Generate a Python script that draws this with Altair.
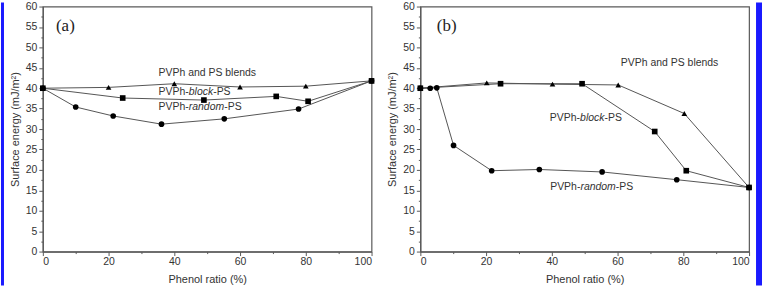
import altair as alt
import pandas as pd

# ---- data: surface energy (mJ/m^2) vs phenol ratio (%) ----
# panel (a)
a_blend_x = [0, 20, 40, 60, 80, 100]
a_blend_y = [40.0, 40.2, 41.1, 40.3, 40.5, 41.8]
a_block_x = [0, 24.3, 49, 71, 80.7, 100]
a_block_y = [40.0, 37.6, 37.1, 38.0, 36.8, 41.8]
a_random_x = [0, 10, 21.4, 36.1, 55.2, 77.8, 100]
a_random_y = [40.0, 35.4, 33.2, 31.2, 32.5, 34.9, 41.8]

# panel (b)
b_blend_x = [0, 20.2, 40.2, 60.2, 80.3, 100]
b_blend_y = [40.0, 41.3, 41.0, 40.8, 33.8, 15.7]
b_block_x = [0, 24.4, 49.2, 71.3, 80.9, 100]
b_block_y = [40.0, 41.1, 41.1, 29.4, 19.8, 15.7]
b_random_x = [0, 3, 5, 10.1, 21.7, 36.2, 55.3, 78, 100]
b_random_y = [40.0, 40.0, 40.1, 26.0, 19.8, 20.1, 19.5, 17.6, 15.7]

series_names = ["blend", "random", "block"]
series_shapes = ["triangle-up", "circle", "square"]

FONT = "Liberation Sans"
LINE_COLOR = "#555555"
AXIS_COLOR = "#5a5a5a"
TEXT_COLOR = "#333333"
EDGE_BLUE = "#1a1aff"
LABEL_SIZE = 10.5

# Arial / Liberation Sans advance widths (per 1000 em) for label layout
GLYPH_W = {"P": 667, "V": 667, "S": 667, "h": 556, "-": 333, "b": 556,
           "l": 222, "o": 556, "c": 500, "k": 500, "r": 333, "a": 556,
           "n": 556, "d": 556, "m": 833, " ": 278, "s": 500, "e": 556}


def text_width(s, size):
    return sum(GLYPH_W.get(ch, 556) for ch in s) * size / 1000.0


def frame(series):
    rows = []
    for name, xs, ys in series:
        for x, y in zip(xs, ys):
            rows.append({"series": name, "x": x, "y": y})
    return pd.DataFrame(rows)


x_enc = alt.X(
    "x:Q",
    scale=alt.Scale(domain=[0, 100], nice=False),
    axis=alt.Axis(
        values=list(range(0, 101, 10)),
        labelExpr="datum.value % 20 === 0 ? datum.label : ''",
        labelOverlap=False,
        tickSize={"condition": {"test": "datum.value % 20 === 0", "value": 4}, "value": 2},
        title="Phenol ratio (%)",
        titlePadding=7,
        labelPadding=1,
    ),
)
y_enc = alt.Y(
    "y:Q",
    scale=alt.Scale(domain=[0, 60], nice=False),
    axis=alt.Axis(
        values=[v * 2.5 for v in range(0, 25)],
        labelExpr="datum.value % 5 === 0 ? datum.label : ''",
        labelOverlap=False,
        tickSize={"condition": {"test": "datum.value % 5 === 0", "value": 4}, "value": 2},
        title="Surface energy (mJ/m²)",
        titlePadding=5,
        labelPadding=2,
    ),
)


def edge_bar(x0, x1):
    """Thin blue strip along the outer edge of the figure."""
    return (
        alt.Chart(pd.DataFrame({"k": [0]}))
        .mark_rect(color=EDGE_BLUE)
        .encode(x=alt.value(x0), x2=alt.value(x1),
                y=alt.value(-4), y2=alt.value(280))
    )


def panel(df, tag, tag_pos, labels, edge):
    base = alt.Chart(df)
    lines = base.mark_line(color=LINE_COLOR, strokeWidth=1).encode(
        x=x_enc, y=y_enc, detail="series:N", order="x:Q"
    )
    points = base.mark_point(filled=True, color="black", opacity=1, size=32).encode(
        x=x_enc,
        y=y_enc,
        shape=alt.Shape(
            "series:N",
            scale=alt.Scale(domain=series_names, range=series_shapes),
            legend=None,
        ),
    )
    layers = [lines, points]

    tx, ty = tag_pos
    layers.append(
        alt.Chart(pd.DataFrame({"x": [tx], "y": [ty], "t": [tag]}))
        .mark_text(font="Liberation Serif", fontSize=17, align="left",
                   baseline="middle", color="#222222")
        .encode(x=x_enc, y=y_enc, text="t:N")
    )

    for (lx, ly), parts in labels:
        offset = 0.0
        for txt, italic in parts:
            layers.append(
                alt.Chart(pd.DataFrame({"x": [lx], "y": [ly], "t": [txt]}))
                .mark_text(font=FONT, fontSize=LABEL_SIZE, align="left",
                           baseline="middle", color=TEXT_COLOR, dx=offset,
                           fontStyle="italic" if italic else "normal")
                .encode(x=x_enc, y=y_enc, text="t:N")
            )
            offset += text_width(txt, LABEL_SIZE)

    layers.append(edge_bar(*edge))
    return alt.layer(*layers).properties(width=330, height=246)


df_a = frame([("blend", a_blend_x, a_blend_y),
              ("random", a_random_x, a_random_y),
              ("block", a_block_x, a_block_y)])
df_b = frame([("blend", b_blend_x, b_blend_y),
              ("random", b_random_x, b_random_y),
              ("block", b_block_x, b_block_y)])

labels_a = [
    ((35.2, 43.8), [("PVPh and PS blends", False)]),
    ((35.2, 39.1), [("PVPh-", False), ("block", True), ("-PS", False)]),
    ((35.2, 35.3), [("PVPh-", False), ("random", True), ("-PS", False)]),
]
labels_b = [
    ((61.0, 46.1), [("PVPh and PS blends", False)]),
    ((39.4, 32.7), [("PVPh-", False), ("block", True), ("-PS", False)]),
    ((39.5, 15.7), [("PVPh-", False), ("random", True), ("-PS", False)]),
]

chart = (
    alt.hconcat(
        panel(df_a, "(a)", (4, 55.3), labels_a, (-42, -39)),
        panel(df_b, "(b)", (5, 55.3), labels_b, (337, 343)),
        spacing=10,
    )
    .properties(padding={"left": 0, "top": 0, "right": 0, "bottom": 0})
    .configure(background="white")
    .configure_view(stroke=AXIS_COLOR, strokeWidth=1.2)
    .configure_axis(
        grid=False,
        domainColor=AXIS_COLOR,
        domainWidth=1.2,
        tickColor=AXIS_COLOR,
        tickWidth=1,
        labelFont=FONT,
        labelFontSize=10.5,
        labelColor=TEXT_COLOR,
        titleFont=FONT,
        titleFontSize=11,
        titleFontWeight="normal",
        titleColor=TEXT_COLOR,
    )
)

chart.save("out.html", embed_options={"renderer": "svg", "actions": False})
